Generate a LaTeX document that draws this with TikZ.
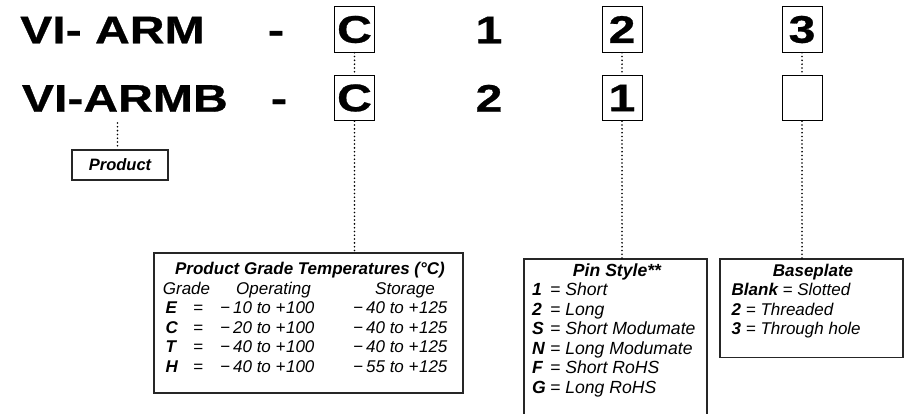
\documentclass[tikz,border=0pt]{standalone}
\usepackage{fontspec}
\setmainfont{Liberation Sans}
\newfontfamily\heavyfont{Liberation Sans}[BoldFeatures={FakeBold=0.7}]
\usepackage{graphicx}
\newcommand{\wide}[1]{\scalebox{1.25}[1]{#1}}
\newcommand{\mns}{−\kern3pt}
\newcommand{\pls}{+\kern0.5pt}
\begin{document}
\begin{tikzpicture}[x=1pt,y=-1pt,
  bigtxt/.style={font=\fontsize{38.5}{40}\heavyfont\bfseries, inner sep=0pt, anchor=base west},
  bigc/.style={font=\fontsize{38.5}{40}\heavyfont\bfseries, inner sep=0pt, anchor=base},
  codebox/.style={draw, line width=1pt, minimum width=40pt, minimum height=45.5pt, inner sep=0pt, font=\fontsize{38.5}{40}\heavyfont\bfseries},
  dotln/.style={line width=1.8pt, dash pattern=on 0pt off 3.8pt, line cap=round},
  infobox/.style={draw=black!85, line width=1.2pt, inner sep=0pt},
  sm/.style={font=\fontsize{17}{19.5}\selectfont\itshape, inner sep=0pt, anchor=base west},
  smb/.style={font=\fontsize{17}{19.5}\selectfont\bfseries\itshape, inner sep=0pt, anchor=base west},
  smt/.style={font=\fontsize{17}{19.5}\selectfont\bfseries\itshape, inner sep=0pt, anchor=base},
  pn/.style={font=\fontsize{17.6}{19.5}\selectfont\itshape, inner sep=0pt, anchor=base west},
]
\clip (0,0) rectangle (908,413);
% top row
\node[bigtxt] (r1) at (20,43.3) {\wide{VI- ARM}};
\node[bigc] (d1) at (276,43.3) {\wide{-}};
\node[codebox] (c1) at (354.5,29.5) {\wide{C}};
\node[bigc] (n1) at (489,43.3) {\wide{1}};
\node[codebox] (p1) at (622,29.5) {\wide{2}};
\node[codebox] (b1) at (802,29.5) {\wide{3}};
% second row
\node[bigtxt] (r2) at (21.7,111.7) {\wide{VI-ARMB}};
\node[bigc] (d2) at (279,111.7) {\wide{-}};
\node[codebox] (c2) at (354.5,98) {\wide{C}};
\node[bigc] (n2) at (489,111.7) {\wide{2}};
\node[codebox] (p2) at (622,98) {\wide{1}};
\node[codebox] (b2) at (802,98) {};
% product
\coordinate (pstart) at (117.5,123);
\node[infobox, minimum width=96pt, minimum height=30pt, font=\fontsize{16.5}{19.5}\selectfont\bfseries\itshape] (prod) at (120,165) {Product};
% info boxes
\node[infobox, minimum width=309pt, minimum height=140pt] (tbl) at (308.5,323) {};
\node[infobox, minimum width=183pt, minimum height=181pt] (pin) at (615.5,349.5) {};
\node[infobox, minimum width=183pt, minimum height=98.3pt] (base) at (811.5,308.15) {};
% connectors
\draw[dotln] (c1.south) -- (c2.north);
\draw[dotln] (p1.south) -- (p2.north);
\draw[dotln] (b1.south) -- (b2.north);
\draw[dotln] (pstart) -- (pstart |- prod.north);
\draw[dotln] (c2.south) -- (c2.south |- tbl.north);
\draw[dotln] (p2.south) -- (p2.south |- pin.north);
\draw[dotln] (b2.south) -- (b2.south |- base.north);
% table text
\node[smt] (tt) at (310,274) {Product Grade Temperatures (°C)};
\node[sm] (h1) at (162.7,294) {Grade};
\node[sm] (h2) at (236,294) {Operating};
\node[sm] (h3) at (375,294) {Storage};
\foreach \k/\a/\b [count=\i] in {E/\mns10 to \pls100/\mns40 to \pls125,
  C/\mns20 to \pls100/\mns40 to \pls125,
  T/\mns40 to \pls100/\mns40 to \pls125,
  H/\mns40 to \pls100/\mns55 to \pls125}{
  \node[smb] (k\i) at (165.5,294+19.5*\i) {\k};
  \node[sm] (e\i) at (193,294+19.5*\i) {=};
  \node[sm] (o\i) at (220,294+19.5*\i) {\a};
  \node[sm] (s\i) at (353,294+19.5*\i) {\b};
}
% pin style text
\node[smt, font=\fontsize{17.6}{19.5}\selectfont\bfseries\itshape] (pt) at (617,276) {Pin Style**};
\foreach \k/\v [count=\i] in {1/Short, 2/Long, S/Short Modumate, N/Long Modumate, F/Short RoHS, G/Long RoHS}{
  \node[pn] (pl\i) at (532,276+19.5*\i) {\makebox[18pt][l]{\bfseries\k}= \v};
}
% baseplate text
\node[smt] (bt) at (813,276) {Baseplate};
\node[sm] (bl1) at (731.5,295.5) {\textbf{Blank} = Slotted};
\node[sm] (bl2) at (731.5,315) {\textbf{2} = Threaded};
\node[sm] (bl3) at (731.5,334.5) {\textbf{3} = Through hole};
\end{tikzpicture}
\end{document}
